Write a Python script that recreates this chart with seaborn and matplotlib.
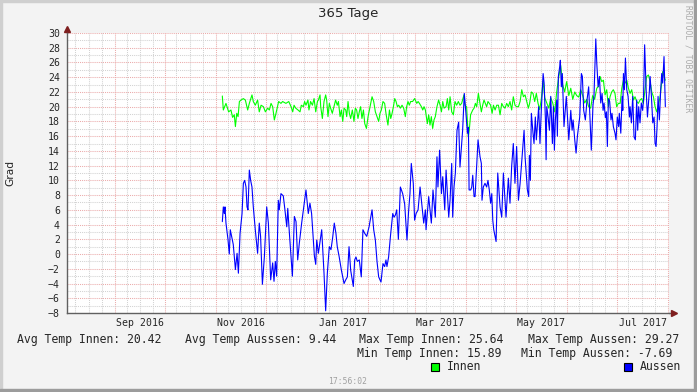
import numpy as np
import pandas as pd
import matplotlib
matplotlib.use("Agg")
import matplotlib.pyplot as plt
import matplotlib.dates as mdates
from matplotlib.patches import Rectangle
import seaborn as sns

# ---------------- data ----------------
title = "365 Tage"
y_label = "Grad"
data_start = pd.Timestamp("2016-11-04 19:00")
x_start = pd.Timestamp("2016-08-03 00:00")
x_end = pd.Timestamp("2017-08-01 12:00")

innen_days = [0.0, 0.6, 2.2, 3.8, 5.2, 6.2, 7.2, 7.9, 8.7, 9.5, 10.3, 11.3, 12.7, 13.9, 15.3, 16.3, 17.9, 18.7,
              19.9, 21.3, 22.3, 23.4, 24.8, 26.0, 27.4, 28.4, 29.4, 30.4, 31.4, 32.4, 34.0, 35.4, 36.4, 38.4,
              40.1, 41.5, 42.5, 43.3, 44.3, 45.7, 46.9, 47.7, 48.9, 49.7, 50.5, 51.7, 52.3, 53.3, 54.4, 55.4,
              56.4, 57.4, 58.0, 59.0, 59.4, 60.4, 61.4, 62.4, 63.0, 63.8, 64.6, 65.4, 66.4, 67.4, 68.4, 69.4,
              70.1, 71.1, 71.9, 72.7, 73.5, 74.5, 75.1, 75.9, 76.7, 77.5, 78.5, 79.5, 80.3, 81.1, 81.9, 82.7,
              83.5, 84.3, 85.2, 86.0, 87.0, 88.0, 89.2, 90.4, 91.4, 92.4, 93.4, 94.4, 95.2, 96.0, 97.0, 98.0,
              98.8, 100.0, 100.9, 101.7, 102.5, 103.3, 104.1, 104.9, 105.7, 106.5, 107.5, 108.5, 109.5, 110.5,
              111.3, 112.1, 112.9, 113.7, 114.9, 116.1, 117.4, 118.2, 119.0, 120.2, 121.0, 121.8, 122.6, 123.2,
              123.8, 124.6, 125.4, 126.2, 127.0, 127.8, 128.6, 129.6, 130.6, 131.5, 132.3, 133.1, 133.9, 135.1,
              135.9, 136.7, 137.5, 138.5, 139.5, 140.5, 141.5, 142.5, 143.5, 144.5, 145.9, 146.5, 147.5, 148.5,
              149.1, 149.9, 151.2, 152.0, 152.8, 153.6, 154.6, 155.6, 156.4, 157.2, 158.0, 158.8, 159.6, 160.4,
              161.2, 162.0, 162.9, 163.7, 164.7, 165.7, 166.7, 167.7, 168.7, 169.7, 170.7, 171.7, 172.7, 173.7,
              174.7, 175.7, 176.7, 177.7, 178.8, 179.8, 180.8, 181.8, 182.8, 183.8, 184.8, 185.6, 186.6, 187.6,
              188.6, 189.6, 190.6, 191.6, 192.6, 193.7, 194.7, 195.9, 197.1, 198.3, 199.5, 200.7, 201.9, 203.1,
              204.3, 205.5, 206.7, 207.9, 209.2, 210.4, 211.6, 212.8, 214.0, 215.2, 216.4, 217.6, 218.8, 220.0,
              221.2, 222.4, 223.6, 224.8, 226.1, 227.3, 228.1, 229.1, 230.1, 231.1, 232.1, 233.1, 234.1, 235.1,
              236.1, 237.1, 238.1, 239.1, 240.2, 241.2, 242.2, 243.2, 244.2, 245.2, 246.2, 247.2, 248.2, 249.2,
              250.2, 251.2, 252.2, 253.2, 254.2, 255.2, 256.2, 257.3, 258.3, 259.3, 260.3, 261.3, 262.3, 263.3,
              264.3, 265.1, 265.9, 266.7, 267.5]
innen_vals = [21.45, 19.55, 20.45, 19.3, 19.55, 18.55, 18.9, 17.3, 19.1, 18.65, 20.7, 20.9, 21.1, 20.9, 19.55,
              20.45, 21.6, 20.7, 20.2, 20.9, 19.3, 20.2, 20.0, 19.3, 19.8, 19.55, 20.45, 20.0, 18.2, 19.1, 20.7,
              20.45, 20.7, 20.45, 20.7, 20.0, 19.3, 20.2, 19.8, 19.55, 19.3, 20.2, 20.0, 20.7, 20.2, 20.9, 19.55,
              20.7, 20.2, 21.1, 19.3, 20.7, 20.9, 21.6, 20.0, 18.4, 20.7, 21.6, 20.9, 18.65, 20.45, 19.8, 19.1,
              20.0, 20.9, 20.2, 20.7, 18.65, 19.55, 18.0, 19.8, 19.55, 18.65, 20.7, 19.1, 18.4, 19.55, 18.0, 19.8,
              19.55, 18.4, 19.3, 20.0, 18.4, 19.55, 17.7, 17.05, 18.65, 20.0, 21.35, 20.7, 19.3, 18.65, 18.0, 19.1,
              19.55, 20.7, 20.45, 19.1, 17.5, 19.55, 18.4, 19.1, 20.0, 21.1, 20.7, 20.0, 20.2, 19.8, 20.2, 19.8,
              18.65, 20.0, 20.7, 20.2, 20.7, 20.7, 21.1, 20.45, 20.7, 20.45, 20.0, 19.55, 20.0, 19.55, 18.65, 17.7,
              18.9, 17.5, 18.65, 17.05, 18.2, 18.65, 20.0, 20.9, 20.2, 19.3, 20.7, 19.8, 20.0, 21.1, 19.55, 21.35,
              19.3, 18.9, 20.7, 20.2, 20.7, 20.2, 20.45, 21.6, 20.2, 20.0, 15.9, 16.8, 18.9, 19.55, 19.8, 20.45,
              20.0, 21.8, 20.45, 19.3, 20.2, 20.9, 20.45, 20.0, 20.7, 20.45, 20.2, 19.1, 20.2, 19.55, 20.2, 20.2,
              18.9, 20.45, 20.0, 19.8, 20.45, 20.0, 20.7, 19.55, 21.35, 20.2, 20.0, 20.0, 20.7, 22.3, 21.35, 21.6,
              20.7, 19.8, 20.5, 22.0, 21.8, 20.7, 21.8, 20.5, 19.6, 21.0, 23.5, 21.2, 20.5, 19.8, 21.2, 20.5, 19.3,
              22.0, 24.0, 25.6, 23.0, 22.0, 23.4, 21.5, 22.5, 21.0, 22.0, 21.5, 21.3, 22.3, 21.5, 20.5, 21.0, 20.0,
              19.8, 21.5, 21.0, 22.5, 22.8, 24.1, 23.4, 23.6, 21.6, 22.3, 20.0, 21.35, 22.0, 22.3, 21.8, 20.0,
              20.45, 20.45, 22.5, 23.6, 23.2, 23.6, 22.5, 21.8, 22.3, 20.9, 21.35, 20.7, 20.45, 20.9, 21.1, 20.45,
              22.3, 24.1, 24.3, 23.4, 22.0, 21.35, 20.0, 19.3, 20.2, 21.35, 22.9, 24.75, 24.1, 23.6]

aussen_days = [0.0, 0.6, 1.2, 1.6, 2.2, 3.4, 4.2, 4.8, 5.6, 6.6, 7.9, 8.9, 9.7, 10.7, 11.9, 12.7, 13.5, 14.3,
               14.9, 15.5, 16.3, 17.1, 17.9, 18.7, 19.9, 21.3, 22.3, 23.1, 24.2, 25.4, 26.8, 27.8, 29.2, 30.4,
               31.2, 32.0, 32.8, 33.8, 34.4, 35.4, 36.8, 37.8, 38.9, 39.5, 40.5, 42.3, 43.5, 44.5, 45.5, 46.5,
               47.9, 50.5, 51.9, 52.9, 53.9, 55.6, 56.4, 57.0, 58.0, 60.0, 61.4, 62.4, 63.4, 64.6, 65.6, 66.6,
               67.6, 68.6, 69.4, 70.5, 71.9, 73.5, 74.5, 75.5, 76.5, 77.5, 79.1, 79.9, 80.7, 81.5, 82.7, 83.9,
               84.9, 86.0, 87.2, 88.6, 90.4, 91.4, 92.4, 93.4, 94.4, 95.8, 97.0, 98.0, 98.8, 99.4, 100.4, 101.5,
               102.9, 103.7, 104.5, 105.3, 106.3, 107.5, 108.9, 110.1, 111.5, 112.5, 113.3, 114.1, 115.3, 116.1,
               117.0, 118.2, 119.4, 121.6, 122.6, 123.0, 124.6, 126.2, 127.2, 128.6, 129.6, 130.2, 131.2, 132.3,
               133.1, 134.3, 135.1, 136.7, 137.5, 138.5, 139.1, 139.9, 140.7, 141.7, 142.7, 143.5, 145.1, 146.1,
               147.1, 148.0, 148.6, 149.0, 150.0, 150.6, 151.2, 152.0, 152.6, 154.4, 155.6, 156.4, 156.8, 157.6,
               158.6, 159.6, 160.4, 161.2, 162.0, 162.7, 163.3, 163.9, 165.3, 166.3, 167.7, 168.7, 169.7, 170.3,
               171.3, 172.7, 173.7, 174.7, 175.7, 176.7, 177.7, 178.8, 179.8, 182.2, 182.8, 184.2, 185.0, 185.4,
               186.0, 186.6, 187.6, 188.2, 189.0, 189.6, 190.2, 191.0, 191.8, 192.6, 193.7, 194.3, 195.1, 195.5,
               195.9, 196.7, 197.5, 198.3, 199.3, 199.9, 200.5, 201.1, 201.9, 202.3, 202.9, 203.7, 204.1, 204.7,
               205.3, 206.3, 206.9, 207.7, 208.4, 209.2, 210.4, 211.2, 211.8, 212.8, 213.6, 214.4, 215.8, 216.8,
               217.4, 218.2, 219.2, 220.2, 221.2, 222.2, 222.8, 223.8, 224.4, 225.5, 226.1, 226.9, 227.7, 228.5,
               229.3, 229.9, 230.5, 231.3, 231.9, 232.5, 233.1, 233.9, 234.7, 235.3, 236.1, 237.1, 237.7, 238.5,
               239.3, 239.7, 240.6, 241.4, 241.8, 242.2, 242.8, 243.4, 244.2, 245.0, 245.8, 246.2, 247.0, 247.8,
               248.6, 249.4, 250.2, 250.8, 251.4, 252.2, 253.0, 253.8, 254.3, 254.6, 255.0, 255.9, 256.7, 257.9,
               258.3, 259.1, 259.9, 260.7, 261.3, 261.9, 262.5, 263.1, 263.9, 264.7, 265.3, 265.9, 266.7, 267.5]
aussen_vals = [4.4, 6.4, 5.5, 6.4, 4.2, 2.0, 0.0, 3.3, 2.4, 1.3, -2.1, 0.1, -2.6, 2.8, 5.5, 9.6, 10.0, 9.1,
               6.4, 6.0, 11.4, 10.0, 9.1, 6.4, 3.3, 0.1, 4.2, 2.4, -4.1, -0.3, 6.4, 4.2, -3.5, -1.2,
               -3.7, -1.0, -3.0, 7.3, 6.0, 8.2, 7.9, 6.0, 3.7, 6.2, 2.8, -3.0, 5.1, 4.4, -0.8, 1.5,
               4.2, 8.7, 5.5, 6.9, 5.5, -0.3, -1.4, 1.9, 0.1, 3.3, -2.6, -7.7, -2.6, 1.0, 0.6, 2.2,
               4.2, 2.8, 1.0, -0.3, -2.2, -4.0, -3.5, -3.1, 1.0, -2.2, -4.4, -0.8, -0.4, -1.0, -0.8, -3.1,
               3.3, 2.8, 2.4, 3.7, 6.0, 3.3, 1.9, -1.0, -3.1, -3.8, -1.3, -1.7, -0.8, -1.7, -0.4, 2.4,
               5.5, 5.0, 5.3, 6.0, 2.0, 9.1, 8.2, 6.8, 1.9, 5.9, 8.2, 12.3, 9.6, 4.6,
               5.5, 6.0, 9.1, 4.2, 6.0, 3.3, 7.8, 4.2, 8.7, 5.0, 13.2, 9.1, 14.1, 8.2,
               10.5, 6.0, 11.4, 5.0, 7.3, 12.3, 5.0, 9.1, 11.0, 16.8, 17.9, 11.8, 16.8, 21.8,
               19.1, 16.4, 17.2, 8.7, 8.7, 9.1, 10.7, 7.8, 7.8, 15.5, 13.2, 12.3, 7.3, 9.1,
               9.6, 9.1, 10.0, 8.7, 6.9, 8.2, 4.6, 3.3, 1.7, 11.0, 6.4, 5.0, 11.0, 8.7,
               5.0, 10.3, 6.9, 11.9, 15.0, 9.6, 14.6, 7.3, 9.6, 16.8, 13.2, 8.7, 7.8, 13.4,
               10.0, 19.1, 16.4, 15.0, 18.6, 15.5, 17.3, 20.0, 15.0, 19.5, 24.5, 23.2, 18.2, 12.8,
               20.0, 18.6, 16.8, 21.4, 15.0, 20.0, 14.1, 18.2, 20.9, 16.0, 24.1, 25.4, 26.3, 22.7,
               24.5, 17.3, 19.1, 21.4, 18.6, 15.5, 19.5, 16.8, 18.2, 15.5, 13.7, 16.0, 18.6, 24.5,
               24.1, 19.5, 18.2, 20.9, 22.7, 17.3, 14.1, 20.2, 21.4, 29.2, 25.9, 22.7, 24.1, 20.5,
               21.8, 19.5, 20.5, 18.5, 19.3, 14.6, 21.1, 20.7, 18.2, 19.1, 17.3, 16.4, 15.5, 18.6,
               17.3, 19.1, 16.4, 21.4, 19.5, 24.5, 22.3, 26.6, 22.3, 21.4, 18.6, 20.0, 17.8, 21.4,
               15.9, 15.5, 20.9, 16.8, 20.0, 17.8, 20.5, 19.5, 20.9, 24.1, 28.4, 22.3, 18.6, 22.3,
               24.1, 21.4, 17.8, 18.6, 15.0, 14.6, 17.3, 21.4, 18.2, 22.3, 24.5, 23.2, 26.8, 20.0]

series_names = ["Innen", "Aussen"]
series_colors = ["#00FF00", "#0000FF"]
month_labels = ["Sep 2016", "Nov 2016", "Jan 2017", "Mar 2017", "May 2017", "Jul 2017"]
label_months = ["2016-09-01", "2016-11-01", "2017-01-01", "2017-03-01", "2017-05-01", "2017-07-01"]
y_min, y_max = -8, 30
stats_row1 = [("Avg Temp Innen: 20.42", 17), ("Avg Temp Ausssen: 9.44", 185),
              ("Max Temp Innen: 25.64", 359), ("Max Temp Aussen: 29.27", 528)]
stats_row2 = [("Min Temp Innen: 15.89", 357), ("Min Temp Aussen: -7.69", 521)]
timestamp = "17:56:02"
watermark = "RRDTOOL / TOBI OETIKER"

# ---------------- figure ----------------
W, H = 697, 392
sns.set_style("white")
plt.rcParams["font.family"] = ["DejaVu Sans Mono"]

fig = plt.figure(figsize=(W / 100, H / 100), dpi=100, facecolor="#F3F3F3")

def fx(px):
    return px / W

def fy(py):
    return 1 - py / H

# frame of the canvas
fig.patches.append(Rectangle((0, fy(2)), 1, 2 / H, transform=fig.transFigure, color="#CFCFCF", zorder=0))
fig.patches.append(Rectangle((0, 0), 2 / W, 1, transform=fig.transFigure, color="#CFCFCF", zorder=0))
fig.patches.append(Rectangle((0, 0), 1, 3 / H, transform=fig.transFigure, color="#9C9C9C", zorder=0))
fig.patches.append(Rectangle((1 - 3 / W, 0), 3 / W, 1, transform=fig.transFigure, color="#9C9C9C", zorder=0))

ax = fig.add_axes([fx(67), fy(313), (669 - 67) / W, (313 - 33) / H])
ax.set_facecolor("white")

df = pd.concat([
    pd.DataFrame({"date": data_start + pd.to_timedelta(innen_days, unit="D"),
                  "value": innen_vals, "series": "Innen"}),
    pd.DataFrame({"date": data_start + pd.to_timedelta(aussen_days, unit="D"),
                  "value": aussen_vals, "series": "Aussen"}),
], ignore_index=True)

sns.lineplot(data=df, x="date", y="value", hue="series", hue_order=series_names,
             palette=dict(zip(series_names, series_colors)), estimator=None,
             legend=False, linewidth=0.8, ax=ax, zorder=3)
ax.set_xlabel("")
ax.set_ylabel("")

# grid
month_starts = pd.date_range("2016-08-01", "2017-08-01", freq="MS")
minor_dates = [m + pd.Timedelta(days=d) for m in month_starts for d in (7, 15, 23)]
ax.set_xticks(mdates.date2num(month_starts))
ax.set_xticks(mdates.date2num(minor_dates), minor=True)
ax.set_xticklabels([])
ax.set_yticks(np.arange(y_min, y_max + 1, 2))
ax.set_yticks(np.arange(y_min + 1, y_max, 2), minor=True)
ax.tick_params(axis="x", which="both", length=0)
ax.tick_params(axis="y", which="both", length=0, pad=5, labelsize=7.1)
ax.set_axisbelow(True)
ax.grid(True, which="minor", color="#D2D2D2", linestyle=(0, (1, 1)), linewidth=0.75)
ax.grid(True, which="major", color="#EBABAB", linestyle=(0, (1, 1)), linewidth=0.75)

# limits after ticks (set_xticks may widen the view)
ax.set_xlim(mdates.date2num(x_start), mdates.date2num(x_end))
ax.set_ylim(y_min, y_max)

# month labels centered on month intervals
lab_pos = [pd.Timestamp(m) + pd.Timedelta(days=pd.Timestamp(m).days_in_month / 2) for m in label_months]
sec = ax.secondary_xaxis("bottom")
sec.set_xticks(mdates.date2num(lab_pos))
sec.set_xticklabels(month_labels)
sec.tick_params(length=0, pad=3.5, labelsize=7.1)
for s in sec.spines.values():
    s.set_visible(False)
ax.set_xlim(mdates.date2num(x_start), mdates.date2num(x_end))

for side in ("top", "right"):
    ax.spines[side].set_visible(False)
for side in ("left", "bottom"):
    ax.spines[side].set_color("#606060")
    ax.spines[side].set_linewidth(1.0)
    ax.spines[side].set_zorder(4)

# axis arrows
arrow_col = "#7F1F1F"
ax.plot([0, 0], [1, 1 + 3 / 280], color="#606060", lw=1.0, transform=ax.transAxes, clip_on=False)
ax.plot([0], [1 + 4 / 280], marker="^", ms=4, color=arrow_col, transform=ax.transAxes, clip_on=False)
ax.plot([1, 1 + 3 / 602], [0, 0], color="#606060", lw=1.0, transform=ax.transAxes, clip_on=False)
ax.plot([1 + 5 / 602], [0], marker=">", ms=4, color=arrow_col, transform=ax.transAxes, clip_on=False)

# texts
fig.text(fx(348), fy(13), title, ha="center", va="center", fontsize=9.5, family="DejaVu Sans")
fig.text(fx(10), fy(173), y_label, ha="center", va="center", rotation=90, fontsize=7.7, family="DejaVu Sans")
fig.text(fx(688), fy(5), watermark, ha="center", va="top", rotation=270, fontsize=5.8, color="#ABABAB")
fig.text(fx(348), fy(382), timestamp, ha="center", va="center", fontsize=5.8, color="#A0A0A0")

for txt, x in stats_row1:
    fig.text(fx(x), fy(339), txt, ha="left", va="center", fontsize=8.3)
for txt, x in stats_row2:
    fig.text(fx(x), fy(353), txt, ha="left", va="center", fontsize=8.3)

legend_pos = [431, 624]
for name, col, x in zip(series_names, series_colors, legend_pos):
    fig.patches.append(Rectangle((fx(x), fy(371)), 8 / W, 8 / H, transform=fig.transFigure,
                                 facecolor=col, edgecolor="black", linewidth=0.8, zorder=5))
    fig.text(fx(x + 16), fy(367), name, ha="left", va="center", fontsize=8.3)

fig.savefig("out.png", dpi=100, facecolor=fig.get_facecolor())
